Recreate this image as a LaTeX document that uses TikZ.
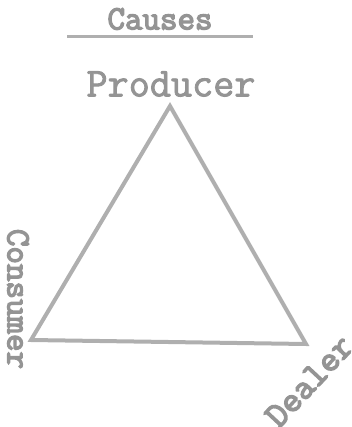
\documentclass[tikz,border=0pt]{standalone}
\usepackage{fontspec}
\newfontfamily\tw{Latin Modern Mono}[FakeBold=4]
\newfontfamily\twl{Latin Modern Mono}[FakeBold=2]
\definecolor{ink}{RGB}{148,148,148}
\definecolor{pen}{RGB}{175,175,175}
\tikzset{
  lbl/.style={text=ink, inner sep=0pt},
  side/.style={draw=pen, line width=4pt, line join=miter}
}
\begin{document}
\begin{tikzpicture}[x=1pt,y=-1pt]
\useasboundingbox (0,0) rectangle (351,427);
\node[lbl, font=\tw\fontsize{34}{34}\selectfont] (causes) at (160,19) {Causes};
\draw[pen, line width=3pt] (67,37) -- (253,37);
\node[lbl, font=\twl\fontsize{41}{41}\selectfont] (producer) at (171,84) {Producer};
\coordinate (top) at (170,106);
\coordinate (left) at (31,340);
\coordinate (right) at (306,344);
\draw[side] (top) -- (left) -- (right) -- cycle;
\node[lbl, font=\tw\fontsize{34}{34}\selectfont, rotate=-90] (consumer) at (18,299) {Consumer};
\node[lbl, font=\tw\fontsize{36}{36}\selectfont, rotate=47] (dealer) at (309,381) {Dealer};
\end{tikzpicture}
\end{document}
